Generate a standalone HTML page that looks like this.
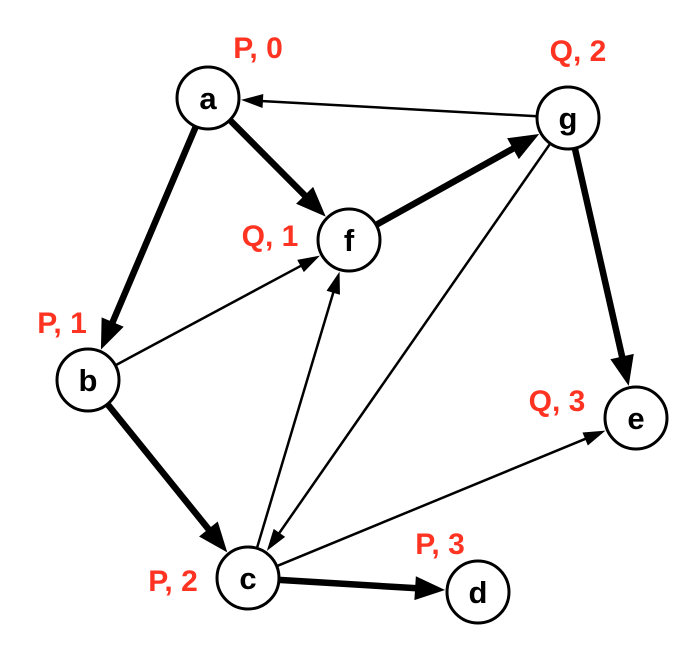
<!DOCTYPE html>
<html><head><meta charset="utf-8"><style>
html,body{margin:0;padding:0;background:#fff;}
svg{display:block;}
</style></head><body>
<svg id="g" width="694" height="648" viewBox="0 0 694 648"></svg>
<script>
const nodeIds=['a','g','f','b','e','c','d'];
const nodeX=[208,568,349,88,636,248,478];
const nodeY=[98,118,240,380,418,578,592];
const nodeLabels=['P, 0','Q, 2','Q, 1','P, 1','Q, 3','P, 2','P, 3'];
const labelX=[258,578,270,62,557,173,440];
const labelY=[47,50,235,322,400,580,543];
const edgeFrom=['a','a','g','f','g','g','b','b','c','c','c'];
const edgeTo=['b','f','a','g','e','c','f','c','f','e','d'];
const edgeThick=[1,1,0,1,1,0,0,1,0,0,1];
const R=31;
const NS='http://www.w3.org/2000/svg';
const svg=document.getElementById('g');
function mk(t,a){const e=document.createElementNS(NS,t);for(const k in a)e.setAttribute(k,a[k]);return e;}
function idx(id){return nodeIds.indexOf(id);}
for(let i=0;i<edgeFrom.length;i++){
  const s=idx(edgeFrom[i]),t=idx(edgeTo[i]);
  const x1=nodeX[s],y1=nodeY[s],x2=nodeX[t],y2=nodeY[t];
  const dx=x2-x1,dy=y2-y1,L=Math.hypot(dx,dy),ux=dx/L,uy=dy/L;
  const th=edgeThick[i];
  const hl=th?30:22,hw=th?12:7,w=th?6.5:2.5;
  const sx=x1+ux*R,sy=y1+uy*R,ex=x2-ux*(R+2),ey=y2-uy*(R+2);
  const bx=ex-ux*hl,by=ey-uy*hl;
  const g=mk('g',{});
  
  
  g.appendChild(mk('line',{x1:sx,y1:sy,x2:bx+ux*2,y2:by+uy*2,stroke:'#000','stroke-width':w}));
  const px=-uy,py=ux;
  g.appendChild(mk('polygon',{points:`${ex},${ey} ${bx+px*hw},${by+py*hw} ${bx-px*hw},${by-py*hw}`,fill:'#000'}));
  svg.appendChild(g);
}
for(let i=0;i<nodeIds.length;i++){
  const g=mk('g',{});
  
  
  g.appendChild(mk('circle',{cx:nodeX[i],cy:nodeY[i],r:R,fill:'#fff',stroke:'#000','stroke-width':3}));
  const t=mk('text',{x:nodeX[i],y:nodeY[i]+11,'text-anchor':'middle','font-family':'Liberation Sans, sans-serif','font-weight':'bold','font-size':31,fill:'#000'});
  t.textContent=nodeIds[i];
  g.appendChild(t);
  svg.appendChild(g);
  const l=mk('text',{x:labelX[i],y:labelY[i]+11,'text-anchor':'middle','font-family':'Liberation Sans, sans-serif','font-weight':'bold','font-size':30,fill:'#ff3322'});
  
  
  l.textContent=nodeLabels[i];
  svg.appendChild(l);
}
</script>
</body></html>
